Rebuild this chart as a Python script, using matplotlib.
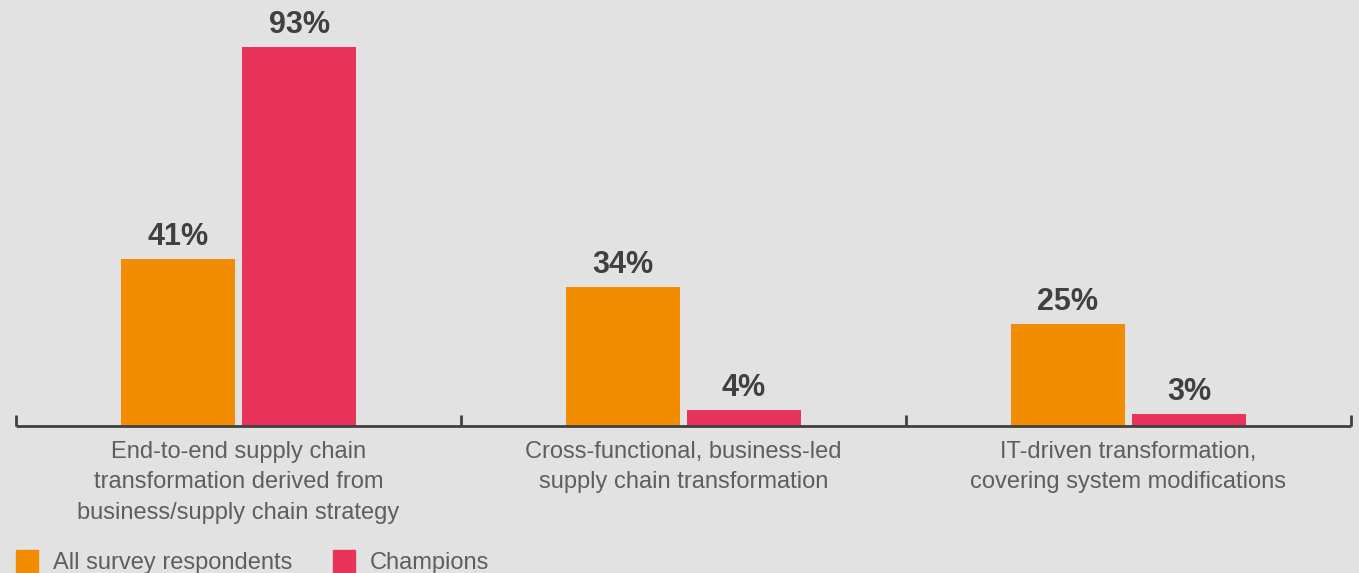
import matplotlib.pyplot as plt
from matplotlib.patches import Rectangle
import numpy as np

categories = [
    "End-to-end supply chain\ntransformation derived from\nbusiness/supply chain strategy",
    "Cross-functional, business-led\nsupply chain transformation",
    "IT-driven transformation,\ncovering system modifications",
]
series_names = ["All survey respondents", "Champions"]
all_respondents = [41, 34, 25]
champions = [93, 4, 3]

BG = "#e2e2e2"
ORANGE = "#f28c00"
RED = "#e8345a"
AXIS = "#404040"
LABEL = "#5e5e5e"

plt.rcParams["font.family"] = ["Liberation Sans", "DejaVu Sans"]

W, H = 1359, 573
fig = plt.figure(figsize=(W / 100, H / 100), dpi=100, facecolor=BG)
ax = fig.add_axes([16 / W, (H - 426) / H, (1351 - 16) / W, 426 / H], facecolor=BG)

x = np.arange(len(categories)) + 0.5
width = 0.256
offset = 0.136

b1 = ax.bar(x - offset, all_respondents, width, color=ORANGE, label=series_names[0])
b2 = ax.bar(x + offset, champions, width, color=RED, label=series_names[1])

for bars, vals in ((b1, all_respondents), (b2, champions)):
    for rect, v in zip(bars, vals):
        ax.annotate(f"{v}%", (rect.get_x() + rect.get_width() / 2, v),
                    xytext=(0, 7), textcoords="offset pixels",
                    ha="center", va="bottom", fontsize=22, fontweight="bold",
                    color=AXIS)

ax.set_xlim(0, 3)
ax.set_ylim(0, 426 / 4.075)

for side in ("top", "right", "left"):
    ax.spines[side].set_visible(False)
ax.spines["bottom"].set_color(AXIS)
ax.spines["bottom"].set_linewidth(2)
ax.spines["bottom"].set_capstyle("butt")

ax.set_yticks([])
ax.set_xticks([0, 1, 2, 3])
ax.set_xticklabels([])
ax.tick_params(axis="x", direction="in", length=8, width=2, color=AXIS)
ax.set_xticks(x, minor=True)
ax.set_xticklabels(categories, minor=True, fontsize=17, color=LABEL,
                   linespacing=1.48)
ax.tick_params(axis="x", which="minor", length=0, pad=11)

# legend drawn by hand along the bottom edge
legend_x = [16, 333]
for name, color, lx in zip(series_names, [ORANGE, RED], legend_x):
    fig.add_artist(Rectangle((lx / W, 0), 22 / W, 23 / H,
                             transform=fig.transFigure, color=color))
    fig.text((lx + 37) / W, 1 - 552 / H, name, fontsize=17, color=LABEL,
             ha="left", va="top")

fig.savefig("out.png", dpi=100, facecolor=BG)
